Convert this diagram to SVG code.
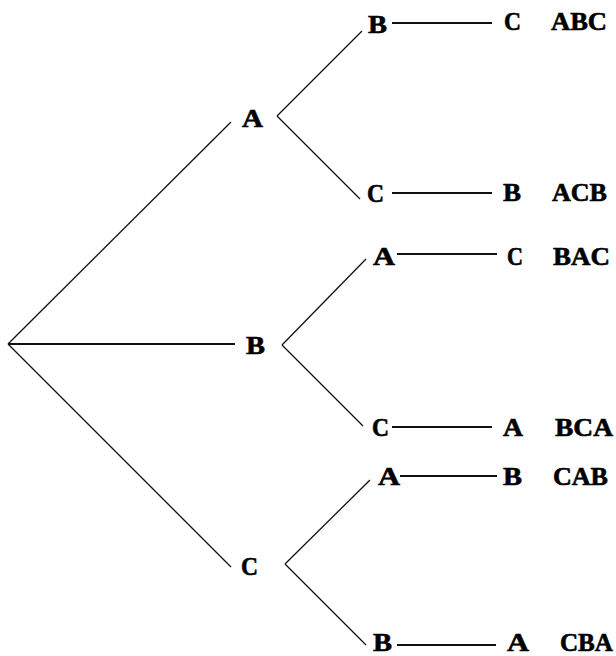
<svg xmlns="http://www.w3.org/2000/svg" width="616" height="656" viewBox="0 0 616 656">
<style>
text{font-family:"Liberation Serif","Times New Roman",serif;font-weight:bold;font-size:26px;fill:#000;stroke:#000;stroke-width:0.6}
.e{stroke:#111;stroke-width:1.3;fill:none}
.h{stroke:#111;stroke-width:1.8;fill:none}
</style>
<rect width="616" height="656" fill="#fff"/>
<g id="connectors">
<line class="e" x1="8" y1="344" x2="231" y2="122"/>
<line class="h" x1="8" y1="344" x2="235" y2="344"/>
<line class="e" x1="8" y1="344" x2="231" y2="567"/>
<line class="e" x1="277" y1="116" x2="362" y2="31"/>
<line class="e" x1="277" y1="116" x2="360" y2="199"/>
<line class="e" x1="282" y1="345" x2="366" y2="259"/>
<line class="e" x1="282" y1="345" x2="363" y2="426"/>
<line class="e" x1="285" y1="564" x2="370" y2="480"/>
<line class="e" x1="285" y1="564" x2="366" y2="645"/>
<line class="h" x1="392" y1="23" x2="492" y2="23"/>
<line class="h" x1="392" y1="193" x2="492" y2="193"/>
<line class="h" x1="397" y1="254" x2="497" y2="254"/>
<line class="h" x1="392" y1="427" x2="492" y2="427"/>
<line class="h" x1="400" y1="476" x2="497" y2="476"/>
<line class="h" x1="397" y1="645" x2="496" y2="645"/>
</g>
<g id="n-A"><text x="242" y="127" textLength="21" lengthAdjust="spacingAndGlyphs">A</text></g>
<g id="n-B"><text x="246" y="354" textLength="19" lengthAdjust="spacingAndGlyphs">B</text></g>
<g id="n-C"><text x="241" y="575" textLength="17" lengthAdjust="spacingAndGlyphs">C</text></g>
<g id="n-AB"><text x="368" y="33" textLength="19" lengthAdjust="spacingAndGlyphs">B</text></g>
<g id="n-AC"><text x="367" y="202" textLength="17" lengthAdjust="spacingAndGlyphs">C</text></g>
<g id="n-BA"><text x="373" y="265" textLength="22" lengthAdjust="spacingAndGlyphs">A</text></g>
<g id="n-BC"><text x="372" y="436" textLength="17" lengthAdjust="spacingAndGlyphs">C</text></g>
<g id="n-CA"><text x="378" y="485" textLength="22" lengthAdjust="spacingAndGlyphs">A</text></g>
<g id="n-CB"><text x="373" y="651" textLength="19" lengthAdjust="spacingAndGlyphs">B</text></g>
<g id="n-ABC"><text x="504" y="30" textLength="17" lengthAdjust="spacingAndGlyphs">C</text><text x="551" y="30" textLength="56" lengthAdjust="spacingAndGlyphs">ABC</text></g>
<g id="n-ACB"><text x="503" y="201" textLength="18" lengthAdjust="spacingAndGlyphs">B</text><text x="552" y="201" textLength="55" lengthAdjust="spacingAndGlyphs">ACB</text></g>
<g id="n-BAC"><text x="507" y="265" textLength="16" lengthAdjust="spacingAndGlyphs">C</text><text x="553" y="265" textLength="57" lengthAdjust="spacingAndGlyphs">BAC</text></g>
<g id="n-BCA"><text x="503" y="436" textLength="20" lengthAdjust="spacingAndGlyphs">A</text><text x="555" y="436" textLength="58" lengthAdjust="spacingAndGlyphs">BCA</text></g>
<g id="n-CAB"><text x="503" y="485" textLength="19" lengthAdjust="spacingAndGlyphs">B</text><text x="553" y="485" textLength="55" lengthAdjust="spacingAndGlyphs">CAB</text></g>
<g id="n-CBA"><text x="507" y="651" textLength="22" lengthAdjust="spacingAndGlyphs">A</text><text x="560" y="651" textLength="53" lengthAdjust="spacingAndGlyphs">CBA</text></g>
</svg>
